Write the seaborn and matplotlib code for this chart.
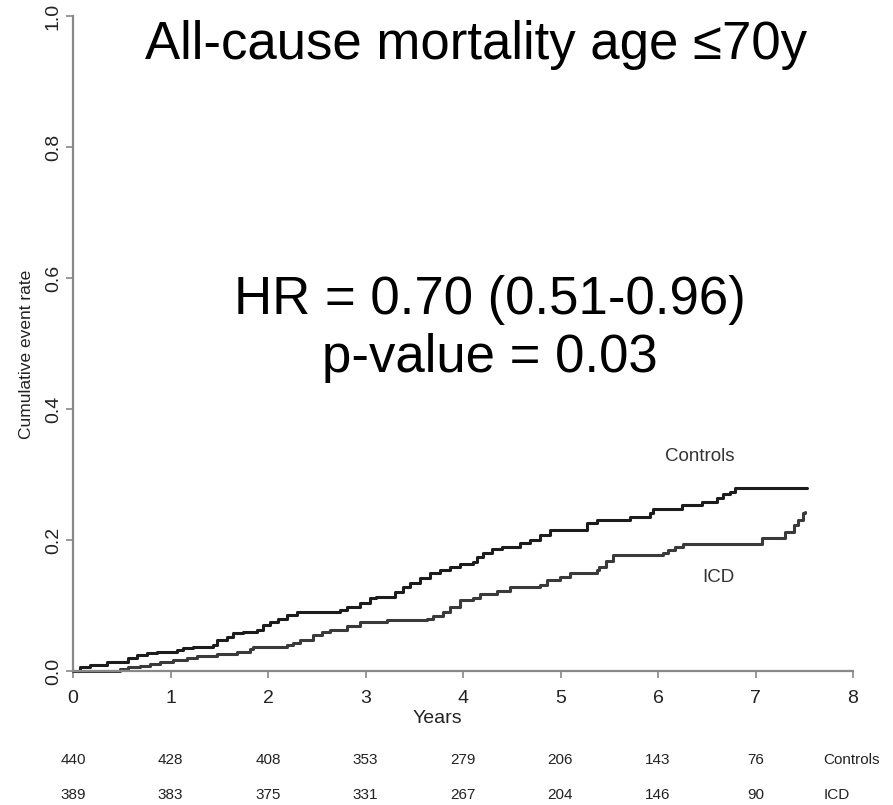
import matplotlib
matplotlib.use("Agg")
import matplotlib.pyplot as plt
import seaborn as sns
import pandas as pd

# ---- data ----
controls_t = [0, 0.07, 0.17, 0.35, 0.56, 0.66, 0.76, 0.86, 1.07, 1.13, 1.23, 1.44, 1.48, 1.58,
              1.64, 1.74, 1.89, 1.95, 2.02, 2.10, 2.19, 2.30, 2.74, 2.81, 2.94, 3.05, 3.11,
              3.30, 3.38, 3.46, 3.56, 3.66, 3.76, 3.87, 3.97, 4.10, 4.14, 4.21, 4.30, 4.40,
              4.58, 4.69, 4.79, 4.89, 5.27, 5.37, 5.71, 5.92, 5.95, 6.25, 6.45, 6.60, 6.67,
              6.74, 6.79, 7.53]
controls_rate = [0, 0.006, 0.009, 0.013, 0.020, 0.024, 0.027, 0.029, 0.032, 0.035, 0.037, 0.040,
                 0.047, 0.052, 0.058, 0.060, 0.063, 0.070, 0.075, 0.079, 0.085, 0.090, 0.093,
                 0.098, 0.104, 0.111, 0.113, 0.121, 0.128, 0.134, 0.142, 0.150, 0.154, 0.159,
                 0.163, 0.166, 0.174, 0.180, 0.186, 0.189, 0.195, 0.200, 0.208, 0.215, 0.226,
                 0.230, 0.235, 0.241, 0.247, 0.253, 0.258, 0.264, 0.270, 0.273, 0.279, 0.279]
icd_t = [0, 0.48, 0.56, 0.69, 0.79, 0.89, 1.03, 1.17, 1.27, 1.48, 1.68, 1.82, 1.85, 2.19, 2.26,
         2.33, 2.46, 2.55, 2.64, 2.81, 2.94, 3.22, 3.63, 3.69, 3.79, 3.87, 3.97, 4.10, 4.17,
         4.35, 4.48, 4.79, 4.86, 4.99, 5.10, 5.37, 5.39, 5.47, 5.54, 6.05, 6.10, 6.17, 6.26,
         7.07, 7.30, 7.39, 7.44, 7.49, 7.51]
icd_rate = [0, 0.003, 0.006, 0.008, 0.011, 0.014, 0.017, 0.020, 0.023, 0.026, 0.029, 0.033,
            0.037, 0.040, 0.043, 0.047, 0.055, 0.059, 0.063, 0.069, 0.075, 0.078, 0.080, 0.084,
            0.090, 0.098, 0.108, 0.111, 0.118, 0.122, 0.128, 0.131, 0.139, 0.144, 0.150, 0.154,
            0.159, 0.168, 0.177, 0.180, 0.185, 0.190, 0.194, 0.203, 0.212, 0.223, 0.230, 0.241,
            0.243]

risk_years = [0, 1, 2, 3, 4, 5, 6, 7]
risk_controls = [440, 428, 408, 353, 279, 206, 143, 76]
risk_icd = [389, 383, 375, 331, 267, 204, 146, 90]

x_ticks = [0, 1, 2, 3, 4, 5, 6, 7, 8]
y_ticks = [0.0, 0.2, 0.4, 0.6, 0.8, 1.0]

title = "All-cause mortality age \u226470y"
hr_line = "HR = 0.70 (0.51-0.96)"
p_line = "p-value = 0.03"

# ---- plotting ----
sns.set_theme(style="white")
plt.rcParams["font.family"] = ["Liberation Sans", "DejaVu Sans"]

W, H = 893, 805
fig = plt.figure(figsize=(W / 100, H / 100), dpi=100)
fig.patch.set_facecolor("white")
ax = fig.add_axes([73 / W, (H - 671) / H, (853 - 73) / W, (671 - 16) / H])
ax.set_facecolor("white")

df_c = pd.DataFrame({"t": controls_t, "rate": controls_rate})
df_i = pd.DataFrame({"t": icd_t, "rate": icd_rate})
sns.lineplot(data=df_c, x="t", y="rate", ax=ax, estimator=None, drawstyle="steps-post",
             color="#1c1c1c", linewidth=2.2, clip_on=False)
sns.lineplot(data=df_i, x="t", y="rate", ax=ax, estimator=None, drawstyle="steps-post",
             color="#3a3a3a", linewidth=2.2, clip_on=False)

ax.set_xlim(0, 8)
ax.set_ylim(0, 1)
ax.set_xticks(x_ticks)
ax.set_xticklabels([str(v) for v in x_ticks])
ax.set_yticks(y_ticks)
ax.set_yticklabels([f"{v:.1f}" for v in y_ticks], rotation=90, va="center")

for s in ["top", "right"]:
    ax.spines[s].set_visible(False)
for s in ["left", "bottom"]:
    ax.spines[s].set_color("#888888")
    ax.spines[s].set_linewidth(1.6)
ax.tick_params(axis="both", which="major", length=5, width=1.2, color="#888888",
               labelsize=14, labelcolor="#222222", bottom=True, left=True)
ax.tick_params(axis="x", pad=9)
ax.tick_params(axis="y", pad=3)

ax.set_xlabel("")
ax.set_ylabel("")
ax.text(3.74, -0.072, "Years", transform=ax.get_xaxis_transform(), ha="center", va="center",
        fontsize=14, color="#222222")
ax.text(-0.059, 0.484, "Cumulative event rate", transform=ax.transAxes, rotation=90,
        ha="center", va="center", fontsize=12.5, color="#222222")

# curve labels
ax.text(6.43, 0.327, "Controls", ha="center", va="center", fontsize=13.5, color="#333333")
ax.text(6.62, 0.1435, "ICD", ha="center", va="center", fontsize=13.5, color="#333333")

# risk table
xt = ax.get_xaxis_transform()
for yr, c, i in zip(risk_years, risk_controls, risk_icd):
    ax.text(yr, -0.136, str(c), transform=xt, ha="center", va="center", fontsize=11, color="#222222")
    ax.text(yr, -0.189, str(i), transform=xt, ha="center", va="center", fontsize=11, color="#222222")
ax.text(7.7, -0.136, "Controls", transform=xt, ha="left", va="center", fontsize=11, color="#222222")
ax.text(7.7, -0.189, "ICD", transform=xt, ha="left", va="center", fontsize=11, color="#222222")

# big annotations
fig.text(476 / W, 1 - 45 / H, title, ha="center", va="center", fontsize=38, color="black")
fig.text(490 / W, 1 - 300 / H, hr_line, ha="center", va="center", fontsize=38, color="black")
fig.text(490 / W, 1 - 358 / H, p_line, ha="center", va="center", fontsize=38, color="black")

fig.savefig("out.png", dpi=100, facecolor="white")
